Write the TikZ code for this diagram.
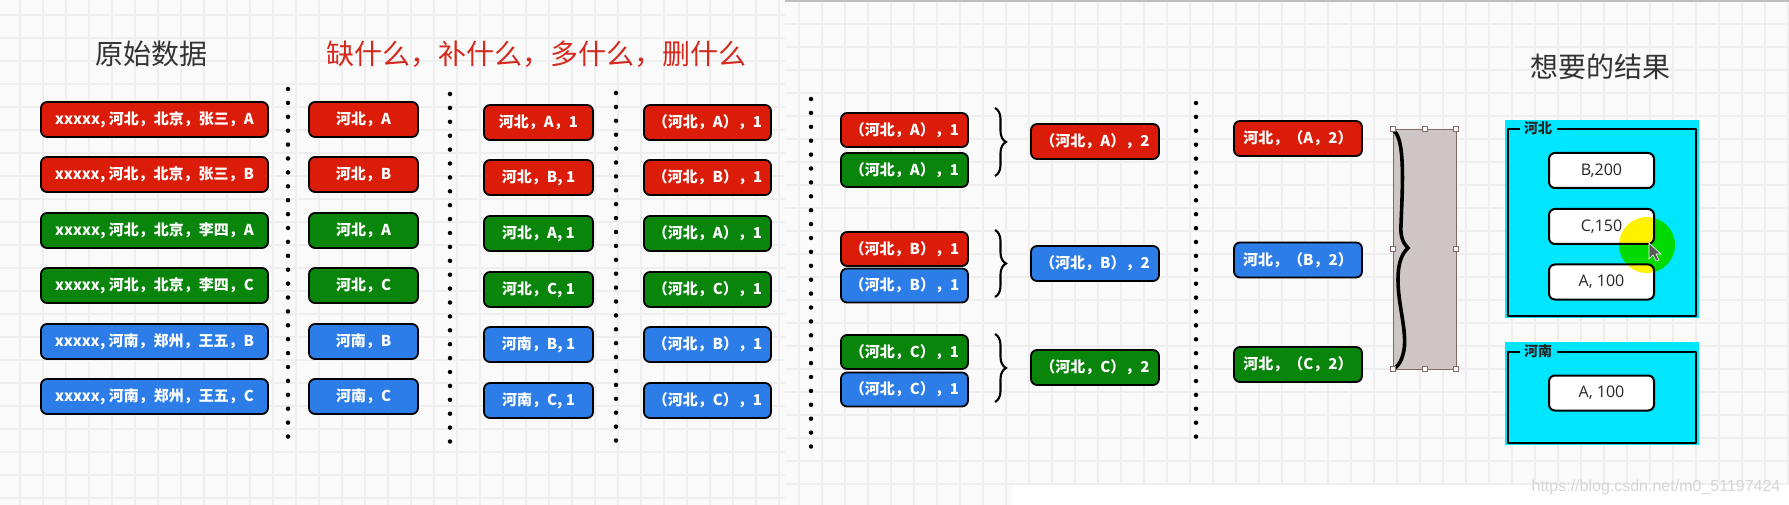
\documentclass[tikz,border=0pt]{standalone}
\usepackage{fontspec}
\setmainfont{Noto Sans CJK SC}
\newfontfamily\cjk{Noto Sans CJK SC}
\newfontfamily\wm{Liberation Sans}
\newfontfamily\lat{Open Sans}
\usetikzlibrary{decorations.pathreplacing}
\definecolor{bred}{RGB}{218,28,8}
\definecolor{bgreen}{RGB}{8,133,10}
\definecolor{bblue}{RGB}{44,125,232}
\definecolor{cyanp}{RGB}{0,230,255}
\definecolor{gridc}{RGB}{238,238,238}
\definecolor{bgc}{RGB}{250,250,250}
\definecolor{titred}{RGB}{212,42,30}
\definecolor{titgray}{RGB}{51,51,51}
\definecolor{selfill}{RGB}{205,198,196}
\definecolor{selline}{RGB}{130,105,100}
\definecolor{wmc}{RGB}{214,214,214}
\tikzset{
  gridline/.style={draw=gridc, line width=1.2pt},
  cbox/.style={draw=black, line width=1.8pt, rounded corners=6pt, text=white,
    font=\cjk\bfseries\fontsize{15}{18}\selectfont, inner sep=0pt, minimum height=35pt},
  rbox/.style={cbox, fill=bred},
  gbox/.style={cbox, fill=bgreen},
  bbox/.style={cbox, fill=bblue},
  dotline/.style={line width=4.5pt, line cap=round, dash pattern=on 0pt off 13.9pt},
  curly/.style={decorate, decoration={brace, amplitude=11pt}, line width=2.1pt},
  title/.style={font=\cjk\fontsize{28}{32}\selectfont, inner sep=0pt},
  wbox/.style={draw=black, line width=2pt, rounded corners=6pt, fill=white,
    minimum width=105pt, minimum height=35pt, inner sep=0pt, text=black!85,
    font=\lat\fontsize{16}{19}\selectfont},
  frame/.style={line width=2.6pt, line join=round},
  handle/.style={draw=selline, fill=white, line width=0.8pt, minimum size=5pt, inner sep=0pt},
}
\begin{document}
\begin{tikzpicture}[x=1pt,y=-1pt]
\useasboundingbox (0,0) rectangle (1789,505);
% background and grid
\fill[bgc] (0,0) rectangle (1789,505);
\foreach \x in {20,43,...,785} \draw[gridline] (\x,0) -- (\x,505);
\foreach \y in {15,38,...,505} \draw[gridline] (0,\y) -- (785,\y);
\foreach \x in {799,822,...,1789} \draw[gridline] (\x,0) -- (\x,505);
\foreach \y in {1,24,...,505} \draw[gridline] (785,\y) -- (1789,\y);
\fill[white] (1013,485) rectangle (1789,505);
\draw[black!25, line width=1.5pt] (785,0.8) -- (1789,0.8);

% titles
\node[title, text=titgray] (t1) at (151,54) {原始数据};
\node[title, text=titred] (t2) at (536,54) {缺什么，补什么，多什么，删什么};
\node[title, text=titgray] (t3) at (1600,67) {想要的结果};

% column 1
\node[rbox, minimum width=227pt] (a1) at (154.5,119.5) {xxxxx, 河北，北京，张三，A};
\node[rbox, minimum width=227pt] (a2) at (154.5,174.5) {xxxxx, 河北，北京，张三，B};
\node[gbox, minimum width=227pt] (a3) at (154.5,230.5) {xxxxx, 河北，北京，李四，A};
\node[gbox, minimum width=227pt] (a4) at (154.5,285.5) {xxxxx, 河北，北京，李四，C};
\node[bbox, minimum width=227pt] (a5) at (154.5,341.5) {xxxxx, 河南，郑州，王五，B};
\node[bbox, minimum width=227pt] (a6) at (154.5,396.5) {xxxxx, 河南，郑州，王五，C};

% dotted separators
\coordinate (d1a) at (288,89);  \coordinate (d1b) at (288,437);
\coordinate (d2a) at (450,94);  \coordinate (d2b) at (450,442);
\coordinate (d3a) at (616,93);  \coordinate (d3b) at (616,442);
\coordinate (d4a) at (811,99);  \coordinate (d4b) at (811,447);
\coordinate (d5a) at (1196,103); \coordinate (d5b) at (1196,450);
\draw[dotline] (d1a) -- (d1b);
\draw[dotline] (d2a) -- (d2b);
\draw[dotline] (d3a) -- (d3b);
\draw[dotline] (d4a) -- (d4b);
\draw[dotline] (d5a) -- (d5b);

% column 2
\node[rbox, minimum width=109pt] (b1) at (363.5,119.5) {河北，A};
\node[rbox, minimum width=109pt] (b2) at (363.5,174.5) {河北，B};
\node[gbox, minimum width=109pt] (b3) at (363.5,230.5) {河北，A};
\node[gbox, minimum width=109pt] (b4) at (363.5,285.5) {河北，C};
\node[bbox, minimum width=109pt] (b5) at (363.5,341.5) {河南，B};
\node[bbox, minimum width=109pt] (b6) at (363.5,396.5) {河南，C};

% column 3
\node[rbox, minimum width=109pt] (c1) at (538.5,122.5) {河北，A，1};
\node[rbox, minimum width=109pt] (c2) at (538.5,177.5) {河北，B, 1};
\node[gbox, minimum width=109pt] (c3) at (538.5,233.5) {河北，A, 1};
\node[gbox, minimum width=109pt] (c4) at (538.5,289.5) {河北，C, 1};
\node[bbox, minimum width=109pt] (c5) at (538.5,344.5) {河南，B, 1};
\node[bbox, minimum width=109pt] (c6) at (538.5,400.5) {河南，C, 1};

% column 4
\node[rbox, minimum width=127pt] (e1) at (707.5,122.5) {（河北，A），1};
\node[rbox, minimum width=127pt] (e2) at (707.5,177.5) {（河北，B），1};
\node[gbox, minimum width=127pt] (e3) at (707.5,233.5) {（河北，A），1};
\node[gbox, minimum width=127pt] (e4) at (707.5,289.5) {（河北，C），1};
\node[bbox, minimum width=127pt] (e5) at (707.5,344.5) {（河北，B），1};
\node[bbox, minimum width=127pt] (e6) at (707.5,400.5) {（河北，C），1};

% column 5
\node[rbox, minimum width=127pt, minimum height=34pt] (f1) at (904.5,130) {（河北，A），1};
\node[gbox, minimum width=127pt, minimum height=34pt] (f2) at (904.5,170) {（河北，A），1};
\node[rbox, minimum width=127pt, minimum height=34pt] (f3) at (904.5,249) {（河北，B），1};
\node[bbox, minimum width=127pt, minimum height=34pt] (f4) at (904.5,285.5) {（河北，B），1};
\node[gbox, minimum width=127pt, minimum height=34pt] (f5) at (904.5,352) {（河北，C），1};
\node[bbox, minimum width=127pt, minimum height=34pt] (f6) at (904.5,389.5) {（河北，C），1};

% braces
\coordinate (k1a) at (995,108); \coordinate (k1b) at (995,176);
\coordinate (k2a) at (995,230); \coordinate (k2b) at (995,297);
\coordinate (k3a) at (995,334); \coordinate (k3b) at (995,402);
\draw[curly] (k1a) -- (k1b);
\draw[curly] (k2a) -- (k2b);
\draw[curly] (k3a) -- (k3b);

% column 6
\node[rbox, minimum width=128pt] (g1) at (1095,141.5) {（河北，A），2};
\node[bbox, minimum width=128pt] (g2) at (1095,263.5) {（河北，B），2};
\node[gbox, minimum width=128pt] (g3) at (1095,367.5) {（河北，C），2};

% column 7
\node[rbox, minimum width=128pt] (h1) at (1298,138.5) {河北，（A，2）};
\node[bbox, minimum width=128pt] (h2) at (1298,260) {河北，（B，2）};
\node[gbox, minimum width=128pt] (h3) at (1298,364.5) {河北，（C，2）};

% selected brace shape
\fill[selfill] (1393,129) rectangle (1456,369);
\draw[selline, line width=0.9pt] (1393,129) rectangle (1456,369);
\draw[line width=3.6pt, line cap=round] (1394,131) .. controls (1406,140) and (1402,195) .. (1401,225)
  .. controls (1400,238) and (1404,244) .. (1408,248)
  .. controls (1403,253) and (1398,260) .. (1398,280)
  .. controls (1398,305) and (1407,330) .. (1404,350)
  .. controls (1402,360) and (1399,365) .. (1395,368);
\foreach \p/\q in {1393/129,1424.5/129,1456/129,1393/249,1456/249,1393/369,1424.5/369,1456/369}
  \node[handle] at (\p,\q) {};

% result panel Hebei
\fill[cyanp] (1505,120) rectangle (1699,318);
\draw[frame] (1520,129) -- (1508,129) -- (1508,316) -- (1696,316) -- (1696,129) -- (1557,129);
\node[font=\cjk\bfseries\fontsize{14}{16}\selectfont, text=black!85, inner sep=0pt] (l1) at (1538,128) {河北};
\node[wbox] (w1) at (1601.5,170.5) {B,200};
\node[wbox] (w2) at (1601.5,226.5) {C,150};
\node[wbox] (w3) at (1601.5,282) {A, 100};

% result panel Henan
\fill[cyanp] (1505,342) rectangle (1699,445);
\draw[frame] (1520,352) -- (1508,352) -- (1508,443) -- (1696,443) -- (1696,352) -- (1557,352);
\node[font=\cjk\bfseries\fontsize{14}{16}\selectfont, text=black!85, inner sep=0pt] (l2) at (1538,351) {河南};
\node[wbox] (w4) at (1601.5,393) {A, 100};

% click highlight and cursor
\begin{scope}[blend mode=multiply]
\fill[yellow] (1647,245) circle (28);
\end{scope}
\fill[black!65, draw=white, line width=0.6pt] (1649,243) -- (1649,259) -- (1653,255) -- (1656,261) -- (1659,260) -- (1656,254) -- (1661,254) -- cycle;

% watermark
\node[font=\wm\fontsize{16}{19}\selectfont, text=wmc, inner sep=0pt] (wm) at (1656,487) {https://blog.csdn.net/m0\_51197424};
\end{tikzpicture}
\end{document}
